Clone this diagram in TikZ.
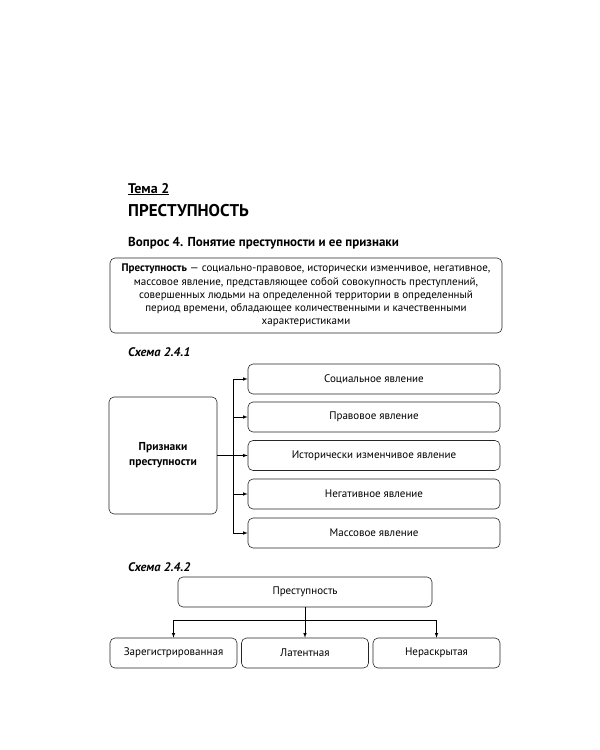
\documentclass[tikz,border=0pt]{standalone}
\usepackage{fontspec}
\setmainfont{PT Sans}
\usepackage{tikz}

\begin{document}
\begin{tikzpicture}[x=1pt,y=-1pt,>=latex,
    box/.style={draw=black!85,rounded corners=5pt,line width=0.6pt,align=center,inner sep=0pt,font=\fontsize{11}{13}\selectfont},
    sign/.style={box,minimum width=252pt,minimum height=30pt},
    kind/.style={box,minimum width=127pt,minimum height=30pt},
    caption/.style={anchor=base west,inner sep=0pt,font=\fontsize{12.4}{14}\selectfont\bfseries\itshape}]
  \useasboundingbox (0,0) rectangle (600,750);

  % Draw headings
  \node[anchor=base west,inner sep=0pt] (theme) at (128,193) {\fontsize{14}{16}\selectfont\bfseries\underline{Тема 2}};
  \node[anchor=base west,inner sep=0pt] (title) at (128,216) {\fontsize{17}{20}\selectfont\bfseries ПРЕСТУПНОСТЬ};
  \node[anchor=base west,inner sep=0pt] (question) at (128,246) {\fontsize{13}{15}\selectfont\bfseries Вопрос 4. Понятие преступности и ее признаки};

  % Draw definition
  \node[box,minimum width=392pt,minimum height=75pt,font=\fontsize{11}{13.2}\selectfont] (def) at (306,295.5)
    {\textbf{Преступность} — социально-правовое, исторически изменчивое, негативное,\\
     массовое явление, представляющее собой совокупность преступлений,\\
     совершенных людьми на определенной территории в определенный\\
     период времени, обладающее количественными и качественными\\
     характеристиками};

  % Draw scheme 2.4.1
  \node[caption] (cap1) at (128,356) {Схема 2.4.1};
  \node[box,minimum width=108pt,minimum height=117pt,font=\fontsize{11.5}{15}\selectfont\bfseries] (signs) at (163,455.5) {Признаки\\преступности};
  \node[sign] (social) at (374,379) {Социальное явление};
  \node[sign] (legal) at (374,417) {Правовое явление};
  \node[sign] (hist) at (374,455.5) {Исторически изменчивое явление};
  \node[sign] (negative) at (374,494) {Негативное явление};
  \node[sign] (mass) at (374,533) {Массовое явление};

  \coordinate (trunk top) at (233,379);
  \coordinate (trunk bottom) at (233,533);
  \draw[line width=0.6pt] (trunk top) -- (trunk bottom);
  \draw[->,line width=0.6pt] (signs.east) -- (hist.west);
  \foreach \n in {social,legal,negative,mass}
    \draw[->,line width=0.6pt] (trunk top |- \n.west) -- (\n.west);

  % Draw scheme 2.4.2
  \node[caption] (cap2) at (128,571) {Схема 2.4.2};
  \node[box,minimum width=254pt,minimum height=30pt] (crime) at (305,592) {Преступность};
  \node[kind] (registered) at (173.5,653) {Зарегистрированная};
  \node[kind] (latent) at (305,653) {Латентная};
  \node[kind] (hidden) at (436.5,653) {Нераскрытая};

  \coordinate (split) at (305,620);
  \draw[->,line width=0.6pt] (crime.south) -- (latent.north);
  \draw[line width=0.6pt] (split -| registered.north) -- (split -| hidden.north);
  \draw[->,line width=0.6pt] (split -| registered.north) -- (registered.north);
  \draw[->,line width=0.6pt] (split -| hidden.north) -- (hidden.north);
\end{tikzpicture}
\end{document}
